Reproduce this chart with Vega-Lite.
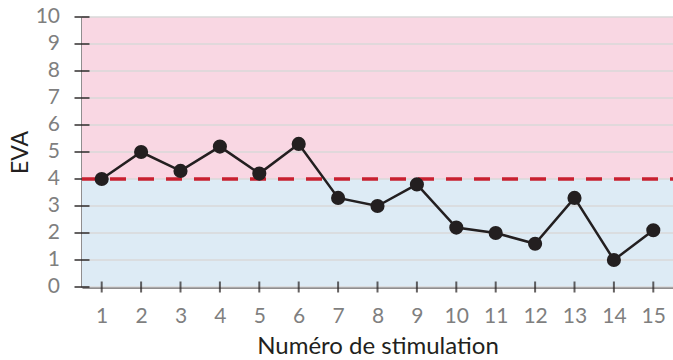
{
  "$schema": "https://vega.github.io/schema/vega-lite/v6.json",
  "width": 591,
  "height": 270,
  "autosize": {"type": "none"},
  "padding": {"left": 82, "top": 17, "right": 0, "bottom": 73},
  "background": "white",
  "config": {"view": {"stroke": null}, "font": "Lato"},
  "datasets": {
    "pts": [
      {"stim": 1, "eva": 4.0}, {"stim": 2, "eva": 5.0}, {"stim": 3, "eva": 4.3},
      {"stim": 4, "eva": 5.2}, {"stim": 5, "eva": 4.2}, {"stim": 6, "eva": 5.3},
      {"stim": 7, "eva": 3.3}, {"stim": 8, "eva": 3.0}, {"stim": 9, "eva": 3.8},
      {"stim": 10, "eva": 2.2}, {"stim": 11, "eva": 2.0}, {"stim": 12, "eva": 1.6},
      {"stim": 13, "eva": 3.3}, {"stim": 14, "eva": 1.0}, {"stim": 15, "eva": 2.1}
    ],
    "zones": [
      {"lo": 0, "hi": 4, "zone": "low"},
      {"lo": 4, "hi": 10, "zone": "high"}
    ],
    "grid": [
      {"v": 0}, {"v": 1}, {"v": 2}, {"v": 3}, {"v": 4}, {"v": 5},
      {"v": 6}, {"v": 7}, {"v": 8}, {"v": 9}, {"v": 10}
    ],
    "threshold": [{"t": 4}]
  },
  "layer": [
    {
      "data": {"name": "zones"},
      "mark": {"type": "rect"},
      "encoding": {
        "x": {"datum": 0.5, "type": "quantitative",
              "scale": {"domain": [0.5, 15.5], "nice": false, "zero": false},
              "axis": {"values": [1,2,3,4,5,6,7,8,9,10,11,12,13,14,15], "title": "Numéro de stimulation",
                       "titleFont": "Lato", "titleFontSize": 24, "titleFontWeight": "normal", "titleColor": "#231F20", "titlePadding": 8,
                       "labelFont": "Lato", "labelFontSize": 21, "labelColor": "#7F7F7F", "labelPadding": 18, "labelOverlap": false,
                       "ticks": false, "grid": false, "domainColor": "#231F20", "domainWidth": 2}},
        "x2": {"datum": 15.5},
        "y": {"field": "lo", "type": "quantitative",
              "scale": {"domain": [0, 10], "nice": false},
              "axis": {"values": [0, 10], "title": "EVA", "labels": false,
                       "titleFont": "Lato", "titleFontSize": 23, "titleFontWeight": "normal", "titleColor": "#231F20", "titlePadding": 50,
                       "ticks": false, "grid": false, "domainColor": "#231F20", "domainWidth": 2}},
        "y2": {"field": "hi"},
        "color": {"field": "zone", "type": "nominal", "scale": {"domain": ["low", "high"], "range": ["#DDEBF5", "#F9D7E3"]}, "legend": null}
      }
    },
    {
      "data": {"name": "grid"},
      "mark": {"type": "rule", "color": "#D9D9D9", "strokeWidth": 1.5},
      "encoding": {
        "y": {"field": "v", "type": "quantitative"},
        "x": {"datum": 0.5, "type": "quantitative"},
        "x2": {"datum": 15.5}
      }
    },
    {
      "data": {"name": "grid"},
      "mark": {"type": "tick", "orient": "horizontal", "color": "#231F20", "size": 15, "thickness": 2},
      "encoding": {
        "y": {"field": "v", "type": "quantitative"},
        "x": {"datum": 0.5, "type": "quantitative"}
      }
    },
    {
      "data": {"name": "grid"},
      "mark": {"type": "text", "align": "right", "baseline": "middle", "dx": -22, "font": "Lato", "fontSize": 21, "color": "#7F7F7F"},
      "encoding": {
        "y": {"field": "v", "type": "quantitative"},
        "x": {"datum": 0.5, "type": "quantitative"},
        "text": {"field": "v", "type": "quantitative"}
      }
    },
    {
      "data": {"name": "pts"},
      "mark": {"type": "tick", "orient": "vertical", "color": "#231F20", "size": 11, "thickness": 2},
      "encoding": {
        "x": {"field": "stim", "type": "quantitative"},
        "y": {"datum": 0, "type": "quantitative"}
      }
    },
    {
      "data": {"name": "threshold"},
      "mark": {"type": "rule", "color": "#C8202F", "strokeWidth": 3.5, "strokeDash": [16, 12]},
      "encoding": {
        "y": {"field": "t", "type": "quantitative"},
        "x": {"datum": 0.5, "type": "quantitative"},
        "x2": {"datum": 15.5}
      }
    },
    {
      "data": {"name": "pts"},
      "mark": {"type": "line", "color": "#231F20", "strokeWidth": 2.5},
      "encoding": {
        "x": {"field": "stim", "type": "quantitative"},
        "y": {"field": "eva", "type": "quantitative"}
      }
    },
    {
      "data": {"name": "pts"},
      "mark": {"type": "point", "filled": true, "color": "#231F20", "opacity": 1, "size": 200},
      "encoding": {
        "x": {"field": "stim", "type": "quantitative"},
        "y": {"field": "eva", "type": "quantitative"}
      }
    }
  ]
}
